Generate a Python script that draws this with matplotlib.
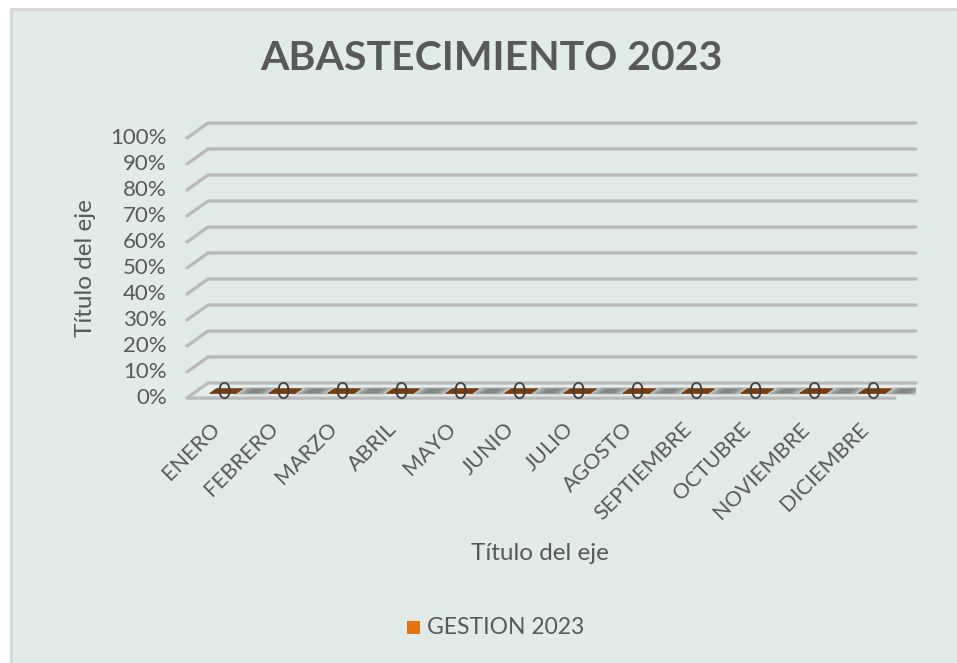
import matplotlib
matplotlib.use("Agg")
import matplotlib.pyplot as plt
from matplotlib.patches import Polygon, Rectangle

# Data
months = ["ENERO", "FEBRERO", "MARZO", "ABRIL", "MAYO", "JUNIO", "JULIO",
          "AGOSTO", "SEPTIEMBRE", "OCTUBRE", "NOVIEMBRE", "DICIEMBRE"]
gestion_2023 = [0, 0, 0, 0, 0, 0, 0, 0, 0, 0, 0, 0]
y_ticks = [0, 10, 20, 30, 40, 50, 60, 70, 80, 90, 100]
y_tick_labels = [f"{t}%" for t in y_ticks]

title = "ABASTECIMIENTO 2023"
axis_title = "Título del eje"
series_name = "GESTION 2023"

W, H = 957, 663
BG = "#E1ECE8"
TXT = "#595959"
GRID = "#C4C4C4"
BAR_TOP = "#7E3D08"
LEGEND_ORANGE = "#E8720C"
FONT = "Lato"

fig = plt.figure(figsize=(W / 100, H / 100), dpi=100)
fig.patch.set_facecolor("white")


def fx(px):
    return px / W


def fy(py):
    return 1 - py / H


# chart area background with light border
fig.patches.append(Rectangle((fx(11), -0.02), 1 - fx(11) + 0.02, fy(9) + 0.02,
                             transform=fig.transFigure, facecolor=BG,
                             edgecolor="#D6D6D6", linewidth=2, zorder=-5))

# plot area: front floor spans x 187..895, back wall adds depth offset
left_px, right_px, bottom_px, top_px = 187, 916, 398, 123
ax = fig.add_axes([fx(left_px), fy(bottom_px), fx(right_px - left_px),
                   (bottom_px - top_px) / H])
ax.set_axis_off()
ax.patch.set_alpha(0)
ax.set_zorder(1)

n = len(months)
cat_px = (895 - 187) / n
depth_x = 21 / cat_px                 # depth offset in category units
depth_y = 15 / (260 / 100)            # depth offset in percent units
ax.set_xlim(-0.5, n - 0.5 + depth_x)
ax.set_ylim(0, 100 + depth_y)

x0, x1 = -0.5, n - 0.5

# gridlines with the 3D wall-to-side bend
for v in y_ticks[1:]:
    xs = [x0, x0 + depth_x, x1 + depth_x]
    ys = [v, v + depth_y, v + depth_y]
    ax.plot(xs, ys, color=GRID, lw=2.6, solid_capstyle="round", zorder=1,
            clip_on=False)
    ax.plot(xs, ys, color="#B4B4B4", lw=0.9, solid_capstyle="round", zorder=1,
            clip_on=False)

# floor (fill, then front, left and back edges)
floor = Polygon([[x0, 0], [x1, 0], [x1 + depth_x, depth_y], [x0 + depth_x, depth_y]],
                closed=True, facecolor="#E6EEEB", edgecolor="none", zorder=1,
                clip_on=False)
ax.add_patch(floor)
for xs, ys in (([x0, x1], [0, 0]),
               ([x0, x0 + depth_x, x1 + depth_x], [0, depth_y, depth_y])):
    ax.plot(xs, ys, color=GRID, lw=2.6, solid_capstyle="round", zorder=1,
            clip_on=False)
    ax.plot(xs, ys, color="#B4B4B4", lw=0.9, solid_capstyle="round", zorder=1,
            clip_on=False)

# bars (3D columns; zero height shows only the top face) with soft shadow
bar_w = 0.45
f0, f1 = 0.3, 0.62
for i, v in enumerate(gestion_2023):
    # soft shadow blob between columns
    cx = i + 0.5
    for k in range(7):
        hw = 0.30 - k * 0.035
        a0, a1 = 0.22 + k * 0.02, 0.72 - k * 0.02
        shadow = Polygon([[cx - hw + a0 * depth_x, v + a0 * depth_y],
                          [cx + hw + a0 * depth_x, v + a0 * depth_y],
                          [cx + hw + a1 * depth_x, v + a1 * depth_y],
                          [cx - hw + a1 * depth_x, v + a1 * depth_y]],
                         closed=True, facecolor="#4A4A4A", edgecolor="none",
                         alpha=0.13, zorder=2)
        ax.add_patch(shadow)
    top = Polygon([[i - bar_w / 2 + f0 * depth_x, v + f0 * depth_y],
                   [i + bar_w / 2 + f0 * depth_x, v + f0 * depth_y],
                   [i + bar_w / 2 + f1 * depth_x, v + f1 * depth_y],
                   [i - bar_w / 2 + f1 * depth_x, v + f1 * depth_y]],
                  closed=True, facecolor=BAR_TOP, edgecolor="#6A3208", lw=0.5,
                  zorder=3)
    ax.add_patch(top)
    ax.text(i + 0.35 * depth_x, v + 0.35 * depth_y, f"{v:.0f}", ha="center",
            va="center", fontsize=16.5, color="#404040", family=FONT, zorder=4)

# y tick labels
for v, lab in zip(y_ticks, y_tick_labels):
    ax.annotate(lab, xy=(x0, v), xytext=(-14.5, 0), textcoords="offset points",
                ha="right", va="center", fontsize=16, color=TXT, family=FONT,
                annotation_clip=False)

# category labels, rotated 45 degrees
for i, m in enumerate(months):
    ax.annotate(m, xy=(i, 0), xytext=(0, -20), textcoords="offset points",
                ha="right", va="center", rotation=45, rotation_mode="anchor",
                fontsize=15.5, color=TXT, family=FONT, annotation_clip=False)

# titles
fig.text(fx(491), fy(58), title, ha="center", va="center", fontsize=29.5,
         fontweight="bold", color=TXT, family=FONT)
fig.text(fx(85), fy(268), axis_title, ha="center", va="center", rotation=90,
         fontsize=17.5, color=TXT, family=FONT)
fig.text(fx(540), fy(553), axis_title, ha="center", va="center",
         fontsize=17.5, color=TXT, family=FONT)

# legend
fig.patches.append(Rectangle((fx(407), fy(634)), fx(13), 13 / H,
                             transform=fig.transFigure, facecolor=LEGEND_ORANGE,
                             edgecolor="none", zorder=2))
fig.text(fx(427), fy(627), series_name, ha="left", va="center", fontsize=16.5,
         color=TXT, family=FONT)

fig.savefig("out.png", dpi=100, facecolor=fig.get_facecolor())
